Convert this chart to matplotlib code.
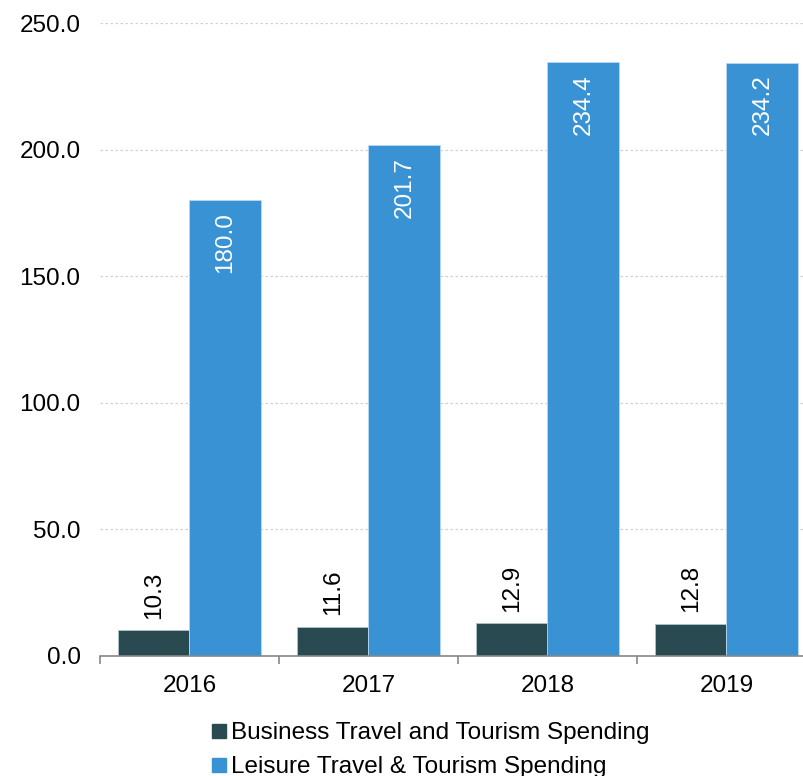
import matplotlib.pyplot as plt
from matplotlib.lines import Line2D
import numpy as np

plt.rcParams['font.family'] = ['Liberation Sans', 'DejaVu Sans']

years = ['2016', '2017', '2018', '2019']
business = [10.3, 11.6, 12.9, 12.8]
leisure = [180.0, 201.7, 234.4, 234.2]
series_names = ['Business Travel and Tourism Spending', 'Leisure Travel & Tourism Spending']
dark = '#2a4a52'
blue = '#3892d3'
fs = 17.5

W, H = 804, 776
fig = plt.figure(figsize=(W / 100, H / 100), dpi=100)
ax = fig.add_axes([100 / W, (H - 656) / H, 704 / W, 633 / H])

x = np.arange(len(years))
bw = 0.4
ax.bar(x - bw / 2, business, bw, color=dark, edgecolor='#b0c4cc', linewidth=0.6)
ax.bar(x + bw / 2, leisure, bw, color=blue, edgecolor='#b8d8f0', linewidth=0.6)

for xi, v in zip(x, business):
    ax.text(xi - bw / 2, v + 4.5, f'{v:.1f}', rotation=90, ha='center', va='bottom',
            fontsize=fs, color='black')
for xi, v in zip(x, leisure):
    ax.text(xi + bw / 2, v - 4.5, f'{v:.1f}', rotation=90, ha='center', va='top',
            fontsize=fs, color='white')

ax.set_xlim(-0.5, 3.5 - 12 / 179)
ax.set_ylim(0, 250)
ax.set_yticks(np.arange(0, 251, 50))
ax.set_yticklabels([f'{t:.1f}' for t in np.arange(0, 251, 50)], fontsize=fs)
ax.tick_params(axis='y', length=0, pad=14)
ax.set_xticks(x)
ax.set_xticklabels(years, fontsize=fs)
ax.tick_params(axis='x', which='major', length=0, pad=14)
ax.set_xticks([-0.5, 0.5, 1.5, 2.5], minor=True)
ax.tick_params(axis='x', which='minor', length=6, width=1.2, color='#888888')

ax.grid(axis='y', linestyle=(0, (2, 2)), color='#d0d0d0', linewidth=0.9)
ax.set_axisbelow(True)
for s in ['top', 'right', 'left']:
    ax.spines[s].set_visible(False)
ax.spines['bottom'].set_color('#888888')
ax.spines['bottom'].set_linewidth(1.2)

handles = [Line2D([], [], marker='s', linestyle='', markersize=10, color=c) for c in (dark, blue)]
fig.legend(handles, series_names, loc='upper left', bbox_to_anchor=(207 / W, 1 - 722 / H),
           frameon=False, fontsize=fs, handletextpad=0.0, labelspacing=0.5,
           handlelength=1.0, borderpad=0, borderaxespad=0)

fig.savefig('out.png', dpi=100)
